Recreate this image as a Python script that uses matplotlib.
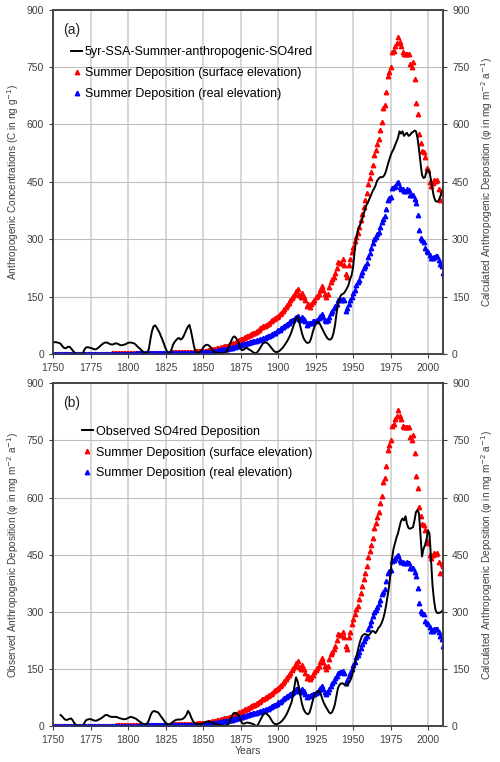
import numpy as np
import matplotlib
matplotlib.use("Agg")
import matplotlib.pyplot as plt

plt.rcParams['font.family'] = ['Liberation Sans', 'DejaVu Sans']

# years for the modelled series (one value per year)
years = np.arange(1750, 2011)

# summer deposition, surface elevation (red)
dep_surface = [
    0.4, 0.4, 0.4, 0.5, 0.5, 0.5, 0.5, 0.5, 0.6, 0.6,   # 1750s
    0.6, 0.6, 0.6, 0.7, 0.7, 0.7, 0.7, 0.8, 0.8, 0.8,   # 1760s
    0.8, 0.9, 0.9, 0.9, 0.9, 1.0, 1.0, 1.0, 1.0, 1.1,   # 1770s
    1.1, 1.1, 1.1, 1.2, 1.2, 1.2, 1.3, 1.3, 1.3, 1.4,   # 1780s
    1.4, 1.4, 1.5, 1.5, 1.5, 1.6, 1.6, 1.7, 1.7, 1.8,   # 1790s
    1.8, 1.9, 1.9, 2.0, 2.0, 2.1, 2.1, 2.2, 2.2, 2.3,   # 1800s
    2.4, 2.4, 2.5, 2.6, 2.6, 2.7, 2.8, 2.8, 2.9, 3.0,   # 1810s
    3.1, 3.2, 3.3, 3.4, 3.5, 3.6, 3.7, 3.8, 3.9, 4.0,   # 1820s
    4.1, 4.3, 4.4, 4.5, 4.7, 4.8, 5.0, 5.1, 5.3, 5.5,   # 1830s
    5.6, 5.8, 6.0, 6.2, 6.4, 6.6, 6.9, 7.1, 7.4, 7.6,   # 1840s
    8, 8.5, 9, 9.5, 10, 11, 12, 13, 14, 15,             # 1850s
    16, 17, 18, 19, 20, 21, 22, 24, 25, 27,             # 1860s
    28, 30, 32, 34, 36, 38, 40, 42, 44, 46,             # 1870s
    48, 50, 52, 54, 56, 58, 61, 64, 67, 70,             # 1880s
    72, 74, 76, 79, 82, 85, 88, 91, 94, 97,             # 1890s
    100, 104, 108, 113, 118, 123, 128, 134, 140, 146,   # 1900s
    152, 158, 165, 171, 155, 150, 160, 150, 140, 125,   # 1910s
    132, 124, 130, 135, 141, 148, 152, 158, 167, 178,   # 1920s
    168, 157, 150, 158, 176, 188, 195, 202, 211, 225,   # 1930s
    241, 239, 238, 248, 233, 210, 202, 233, 247, 267,   # 1940s
    280, 295, 306, 315, 333, 350, 367, 385, 402, 421,   # 1950s
    443, 460, 475, 494, 520, 533, 550, 563, 585, 605,   # 1960s
    642, 650, 684, 726, 738, 750, 788, 792, 805, 813,   # 1970s
    829, 815, 805, 788, 785, 785, 785, 785, 759, 750,   # 1980s
    764, 718, 656, 626, 574, 552, 531, 527, 515, 485,   # 1990s
    480, 450, 440, 448, 455, 452, 455, 430, 402, 425,   # 2000s
    420,                                                # 2010
]

# summer deposition, real elevation (blue)
dep_real = [
    0.2, 0.2, 0.2, 0.2, 0.2, 0.3, 0.3, 0.3, 0.3, 0.3,   # 1750s
    0.3, 0.3, 0.4, 0.4, 0.4, 0.4, 0.4, 0.4, 0.5, 0.5,   # 1760s
    0.5, 0.5, 0.5, 0.5, 0.6, 0.6, 0.6, 0.6, 0.6, 0.7,   # 1770s
    0.7, 0.7, 0.7, 0.7, 0.8, 0.8, 0.8, 0.8, 0.9, 0.9,   # 1780s
    0.9, 0.9, 1.0, 1.0, 1.0, 1.0, 1.1, 1.1, 1.1, 1.2,   # 1790s
    1.2, 1.2, 1.3, 1.3, 1.3, 1.4, 1.4, 1.4, 1.5, 1.5,   # 1800s
    1.5, 1.6, 1.6, 1.7, 1.7, 1.7, 1.8, 1.8, 1.9, 1.9,   # 1810s
    2.0, 2.0, 2.1, 2.1, 2.2, 2.2, 2.3, 2.3, 2.4, 2.4,   # 1820s
    2.5, 2.6, 2.6, 2.7, 2.8, 2.8, 2.9, 3.0, 3.0, 3.1,   # 1830s
    3.2, 3.3, 3.3, 3.4, 3.5, 3.6, 3.7, 3.8, 3.9, 4.0,   # 1840s
    4, 4.5, 5, 5.5, 6, 6.5, 7, 7.5, 8, 9,               # 1850s
    10, 10.5, 11, 12, 12.5, 13, 14, 15, 16, 17,         # 1860s
    18, 19, 20, 21, 22, 24, 25, 26, 27, 28,             # 1870s
    30, 31, 32, 33, 34, 35, 36, 37, 39, 40,             # 1880s
    42, 43, 45, 46, 48, 50, 52, 54, 56, 59,             # 1890s
    62, 64, 67, 70, 73, 76, 79, 82, 85, 88,             # 1900s
    90, 93, 97, 100, 92, 90, 96, 92, 85, 76,            # 1910s
    80, 80, 82, 85, 85, 87, 89, 95, 100, 104,           # 1920s
    97, 90, 85, 90, 97, 106, 112, 119, 125, 132,        # 1930s
    140, 143, 141, 145, 140, 113, 120, 132, 140, 150,   # 1940s
    160, 167, 180, 187, 194, 206, 215, 224, 230, 237,   # 1950s
    254, 265, 276, 289, 300, 305, 313, 320, 331, 346,   # 1960s
    352, 360, 380, 402, 408, 411, 433, 437, 440, 446,   # 1970s
    450, 437, 432, 430, 427, 427, 430, 428, 415, 415,   # 1980s
    415, 405, 394, 363, 324, 302, 298, 294, 276, 270,   # 1990s
    267, 259, 250, 250, 254, 256, 256, 246, 236, 229,   # 2000s
    211,                                                # 2010
]

# panel a: 5yr SSA summer anthropogenic SO4red concentration (1750-2010)
conc_ssa = [
    30, 31, 31, 30, 29, 27, 22, 17, 15, 16,
    19, 19, 15, 10, 5, 2, 0, 0, 0, 0,
    3, 12, 17, 18, 17, 16, 15, 13, 12, 13,
    16, 19, 23, 26, 29, 30, 30, 28, 26, 25,
    25, 27, 28, 27, 25, 23, 23, 24, 25, 27,
    29, 30, 30, 29, 28, 25, 21, 17, 14, 10,
    6, 3, 2, 3, 15, 40, 60, 72, 75, 70,
    63, 56, 46, 37, 26, 15, 7, 3, 3, 12,
    24, 31, 36, 40, 42, 38, 40, 46, 55, 64,
    72, 76, 60, 40, 20, 6, 4, 4, 6, 10,
    16, 21, 24, 24, 22, 18, 12, 7, 4, 3,
    2, 2, 2, 2, 3, 5, 9, 16, 26, 36,
    44, 46, 42, 36, 26, 15, 10, 11, 14, 16,
    14, 11, 9, 6, 3, 2, 4, 9, 15, 22,
    28, 30, 30, 28, 24, 19, 14, 9, 6, 5,
    6, 8, 12, 16, 21, 27, 33, 40, 48, 58,
    70, 82, 94, 98, 86, 70, 54, 42, 35, 30,
    29, 31, 40, 55, 68, 78, 84, 84, 78, 70,
    62, 54, 47, 41, 38, 38, 42, 55, 75, 105,
    132, 145, 154, 157, 159, 165, 172, 180, 195, 205,
    225, 265, 300, 320, 332, 340, 352, 365, 378, 390,
    396, 406, 415, 425, 432, 440, 452, 458, 462, 462,
    463, 468, 478, 492, 506, 518, 528, 535, 545, 555,
    565, 582, 576, 582, 570, 575, 578, 570, 572, 578,
    580, 584, 582, 565, 535, 500, 468, 460, 462, 478,
    482, 475, 455, 430, 410, 400, 398, 400, 410, 420,
    432,
]

# panel b: observed SO4red deposition (1755-2010)
obs_years = np.arange(1755, 2011)
obs_dep = [
    29, 26, 21, 17, 16,
    17, 19, 20, 16, 9, 4, 1, 0, 0, 0,
    1, 9, 15, 17, 18, 18, 17, 15, 14, 14,
    16, 18, 20, 23, 26, 29, 29, 27, 25, 24,
    24, 24, 24, 23, 21, 20, 19, 18, 18, 19,
    21, 23, 24, 23, 21, 20, 17, 14, 11, 8,
    6, 4, 4, 8, 16, 28, 36, 39, 39, 37,
    36, 31, 25, 20, 14, 9, 5, 4, 5, 8,
    11, 14, 16, 17, 17, 17, 18, 20, 24, 30,
    40, 34, 24, 15, 9, 7, 6, 5, 5, 6,
    7, 9, 11, 12, 12, 11, 9, 7, 5, 4,
    4, 3, 2, 1, 0, 0, 2, 6, 14, 24,
    32, 35, 34, 31, 27, 16, 8, 6, 7, 9,
    9, 8, 7, 6, 4, 1, 0, 6, 14, 22,
    29, 33, 33, 30, 26, 20, 13, 8, 5, 5,
    6, 8, 11, 15, 20, 26, 33, 42, 52, 62,
    80, 105, 128, 118, 100, 78, 58, 45, 37, 33,
    31, 35, 48, 64, 78, 86, 90, 92, 88, 78,
    66, 57, 50, 43, 36, 33, 36, 45, 58, 80,
    100, 108, 112, 112, 110, 108, 106, 112, 118, 128,
    142, 160, 176, 195, 212, 226, 236, 240, 242, 240,
    238, 240, 245, 250, 248, 244, 250, 258, 262, 270,
    280, 295, 315, 340, 365, 400, 440, 465, 480, 495,
    506, 523, 538, 545, 540, 551, 530, 520, 518, 520,
    522, 540, 562, 567, 558, 500, 445, 465, 475, 490,
    514, 505, 440, 370, 330, 305, 297, 297, 298, 300,
    305,
]

xticks = [1750, 1775, 1800, 1825, 1850, 1875, 1900, 1925, 1950, 1975, 2000]
yticks = [0, 150, 300, 450, 600, 750, 900]

lbl_surface = 'Summer Deposition (surface elevation)'
lbl_real = 'Summer Deposition (real elevation)'
lbl_right = 'Calculated Anthropogenic Deposition (\u03c6 in mg m$^{-2}$ a$^{-1}$)'

fig = plt.figure(figsize=(5, 7.62), dpi=100)
ax_a = fig.add_axes([0.106, 0.5354, 0.78, 0.452])
ax_b = fig.add_axes([0.106, 0.0472, 0.78, 0.4498])

def style_axes(ax):
    ax.set_xlim(1750, 2010)
    ax.set_ylim(0, 900)
    ax.set_xticks(xticks)
    ax.set_yticks(yticks)
    for x in xticks[1:]:
        ax.axvline(x, color='#d4d4d4', lw=1.3, zorder=0)
    for y in yticks[1:]:
        ax.axhline(y, color='#bdbdbd', lw=0.8, zorder=0)
    for s in ax.spines.values():
        s.set_color('#404040')
        s.set_linewidth(1.1)
    ax.tick_params(labelsize=7.5, colors='#404040', length=3, width=0.8)
    ax2 = ax.twinx()
    ax2.set_ylim(0, 900)
    ax2.set_yticks(yticks)
    ax2.tick_params(labelsize=7.5, colors='#404040', length=3, width=0.8)
    for s in ax2.spines.values():
        s.set_color('#404040')
        s.set_linewidth(1.1)
    ax2.set_ylabel(lbl_right, fontsize=7.2, color='#404040', labelpad=7)
    return ax2

# panel (a)
ax2a = style_axes(ax_a)
ax_a.plot(years, conc_ssa, color='black', lw=1.4, zorder=4,
          label='5yr-SSA-Summer-anthropogenic-SO4red')
ax_a.plot(years, dep_surface, ls='none', marker='^', ms=3.2, color='red',
          mec='red', zorder=3, label=lbl_surface)
ax_a.plot(years, dep_real, ls='none', marker='^', ms=3.2, color='blue',
          mec='blue', zorder=3, label=lbl_real)
ax_a.set_ylabel('Anthropogenic Concentrations (C in ng g$^{-1}$)', fontsize=7.2,
                color='#404040', labelpad=4)
ax_a.text(0.025, 0.93, '(a)', transform=ax_a.transAxes, fontsize=10, color='#222222')
ax_a.legend(loc='upper left', bbox_to_anchor=(0.046, 0.893), frameon=False,
            fontsize=9, handlelength=0.9, handletextpad=0.2, labelspacing=0.7,
            borderpad=0, borderaxespad=0)

# panel (b)
ax2b = style_axes(ax_b)
ax_b.plot(obs_years, obs_dep, color='black', lw=1.4, zorder=4,
          label='Observed SO4red Deposition')
ax_b.plot(years, dep_surface, ls='none', marker='^', ms=3.2, color='red',
          mec='red', zorder=3, label=lbl_surface)
ax_b.plot(years, dep_real, ls='none', marker='^', ms=3.2, color='blue',
          mec='blue', zorder=3, label=lbl_real)
ax_b.set_ylabel('Observed Anthropogenic Deposition (\u03c6 in mg m$^{-2}$ a$^{-1}$)',
                fontsize=7.2, color='#404040', labelpad=4)
ax_b.set_xlabel('Years', fontsize=7.5, color='#404040', labelpad=1)
ax_b.text(0.025, 0.93, '(b)', transform=ax_b.transAxes, fontsize=10, color='#222222')
ax_b.legend(loc='upper left', bbox_to_anchor=(0.074, 0.876), frameon=False,
            fontsize=9, handlelength=0.9, handletextpad=0.2, labelspacing=0.7,
            borderpad=0, borderaxespad=0)

plt.savefig('out.png', dpi=100)
